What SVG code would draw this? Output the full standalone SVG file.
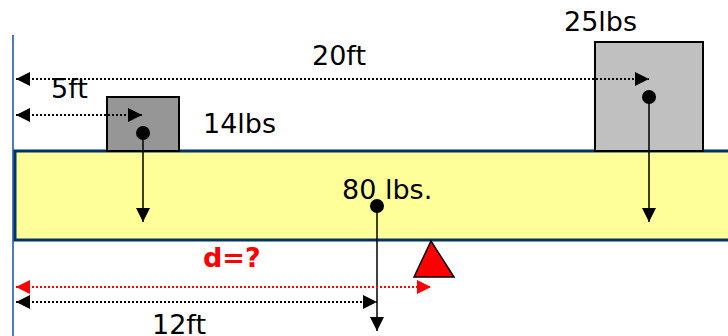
<svg xmlns="http://www.w3.org/2000/svg" width="728" height="336" viewBox="0 0 728 336">
<defs>
<marker id="ah" markerUnits="userSpaceOnUse" markerWidth="16" markerHeight="16" viewBox="0 0 16 16" refX="14" refY="8" orient="auto-start-reverse"><path d="M0,1 L14,8 L0,15 Z" fill="#000"/></marker>
<marker id="ahr" markerUnits="userSpaceOnUse" markerWidth="16" markerHeight="16" viewBox="0 0 16 16" refX="14" refY="8" orient="auto-start-reverse"><path d="M0,1 L14,8 L0,15 Z" fill="#ff0000"/></marker>
</defs>
<style>
text{font-family:"DejaVu Sans",Verdana,sans-serif;font-size:27px;fill:#000}
.dim{stroke:#000;stroke-width:2;stroke-dasharray:2,2;fill:none}
.force{stroke:#000;stroke-width:1.5;fill:none}
.box{stroke:#000;stroke-width:2}
</style>
<line x1="13" y1="35" x2="13" y2="336" stroke="#4a7ebb" stroke-width="2"/>
<g id="beam">
<rect x="15" y="151" width="720" height="89" fill="#ffff99" stroke="#003366" stroke-width="3"/>
<text x="342" y="199">80 lbs.</text>
</g>
<g id="box14">
<rect class="box" x="107" y="97" width="72" height="54" fill="#969696"/>
<text x="203" y="133">14lbs</text>
</g>
<g id="box25">
<rect class="box" x="595" y="42" width="108" height="109" fill="#c0c0c0"/>
<text x="564" y="31">25lbs</text>
</g>
<g id="fulcrum">
<polygon points="431,241 414,277 454,277" fill="#ff0000" stroke="#000" stroke-width="1.5"/>
</g>
<g id="connectors">
<line class="force" x1="143" y1="133" x2="143" y2="222" marker-end="url(#ah)"/>
<circle cx="143" cy="133" r="7" fill="#000"/>
<line class="force" x1="649" y1="97" x2="649" y2="222" marker-end="url(#ah)"/>
<circle cx="649" cy="97" r="7" fill="#000"/>
<line class="force" x1="377" y1="206" x2="377" y2="331" marker-end="url(#ah)"/>
<circle cx="377" cy="206" r="7" fill="#000"/>
<line class="dim" x1="16" y1="79" x2="649" y2="79" marker-start="url(#ah)" marker-end="url(#ah)"/>
<line class="dim" x1="16" y1="115" x2="142" y2="115" marker-start="url(#ah)" marker-end="url(#ah)"/>
<line class="dim" x1="16" y1="287" x2="431" y2="287" style="stroke:#ff0000" marker-start="url(#ahr)" marker-end="url(#ahr)"/>
<line class="dim" x1="16" y1="302" x2="377" y2="302" marker-start="url(#ah)" marker-end="url(#ah)"/>
</g>
<text x="312" y="65">20ft</text>
<text x="51" y="98">5ft</text>
<text x="203" y="267" style="fill:#ff0000;font-weight:bold">d=?</text>
<text x="152" y="334">12ft</text>
</svg>
